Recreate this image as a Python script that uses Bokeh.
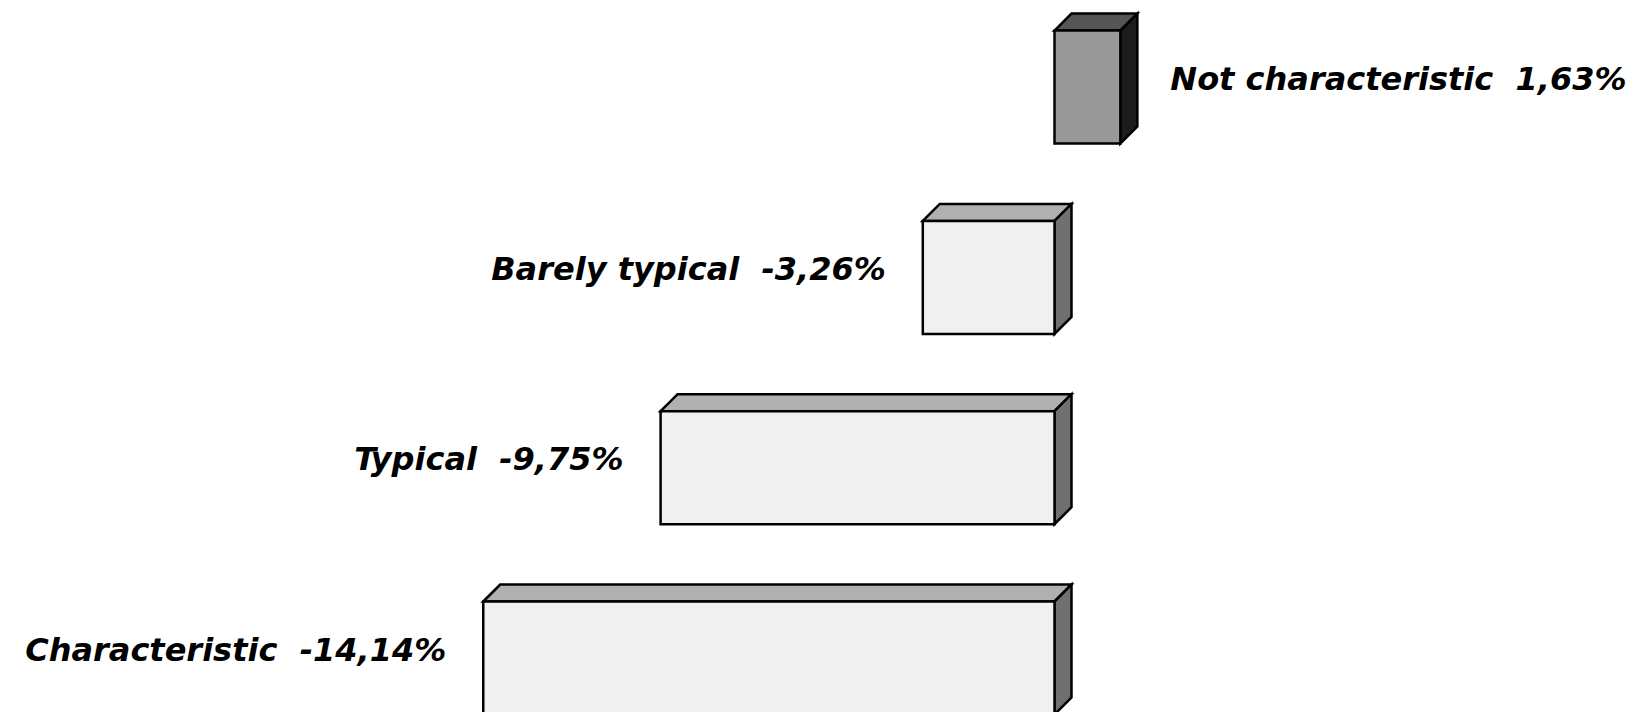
from bokeh.plotting import figure
from bokeh.models import ColumnDataSource
from bokeh.core.properties import value
from bokeh.embed import file_html
from bokeh.resources import INLINE

# Data (bottom to top)
categories = ["Characteristic", "Typical", "Barely typical", "Not characteristic"]
values = [-14.14, -9.75, -3.26, 1.63]

# Styling / geometry (not data)
W, H = 1637, 712
px_per_unit_x = 40.4
zero_px = 1054
x0 = -zero_px / px_per_unit_x
x1 = x0 + W / px_per_unit_x
row_px = 190.3
first_center_px = 657.5
y1 = first_center_px / row_px
y0 = -(H - first_center_px) / row_px
bar_h = 113 / row_px
dx = 17 / px_per_unit_x
dy = 17 / row_px

p = figure(width=W, height=H, x_range=(x0, x1), y_range=(y0, y1),
           output_backend="svg", toolbar_location=None, min_border=0)
p.axis.visible = False
p.grid.visible = False
p.outline_line_color = None
p.background_fill_color = "white"
p.border_fill_color = "white"

front_xs, front_ys, front_c = [], [], []
top_xs, top_ys, top_c = [], [], []
side_xs, side_ys, side_c = [], [], []
lx, ly, ltxt, lx_off, lalign = [], [], [], [], []
for i, (cat, v) in enumerate(zip(categories, values)):
    l, r = min(0, v), max(0, v)
    b, t = i - bar_h / 2, i + bar_h / 2
    pos = v > 0
    front_xs.append([l, r, r, l]); front_ys.append([b, b, t, t])
    front_c.append("#999999" if pos else "#f0f0f0")
    top_xs.append([l, l + dx, r + dx, r]); top_ys.append([t, t + dy, t + dy, t])
    top_c.append("#555555" if pos else "#b0b0b0")
    side_xs.append([r, r, r + dx, r + dx]); side_ys.append([b, t, t + dy, b + dy])
    side_c.append("#1c1c1c" if pos else "#707070")
    lbl = f"{cat}\u00a0\u00a0" + f"{v:.2f}".replace(".", ",") + "%"
    lx.append(v); ly.append(i + dy / 2); ltxt.append(lbl)
    lx_off.append(50 if pos else -37)
    lalign.append("left" if pos else "right")

for xs, ys, cs in [(top_xs, top_ys, top_c), (side_xs, side_ys, side_c), (front_xs, front_ys, front_c)]:
    p.patches(xs=xs, ys=ys, fill_color=cs, line_color="black", line_width=2.5, line_join="miter")

src = ColumnDataSource(dict(x=lx, y=ly, text=ltxt, xo=lx_off, align=lalign))
p.text(x="x", y="y", text="text", x_offset="xo", text_align="align", source=src,
       text_baseline="middle", text_font=value("DejaVu Sans"), text_font_style="bold italic",
       text_font_size="32px", text_color="black")

open("out.html", "w").write(file_html(p, INLINE))
